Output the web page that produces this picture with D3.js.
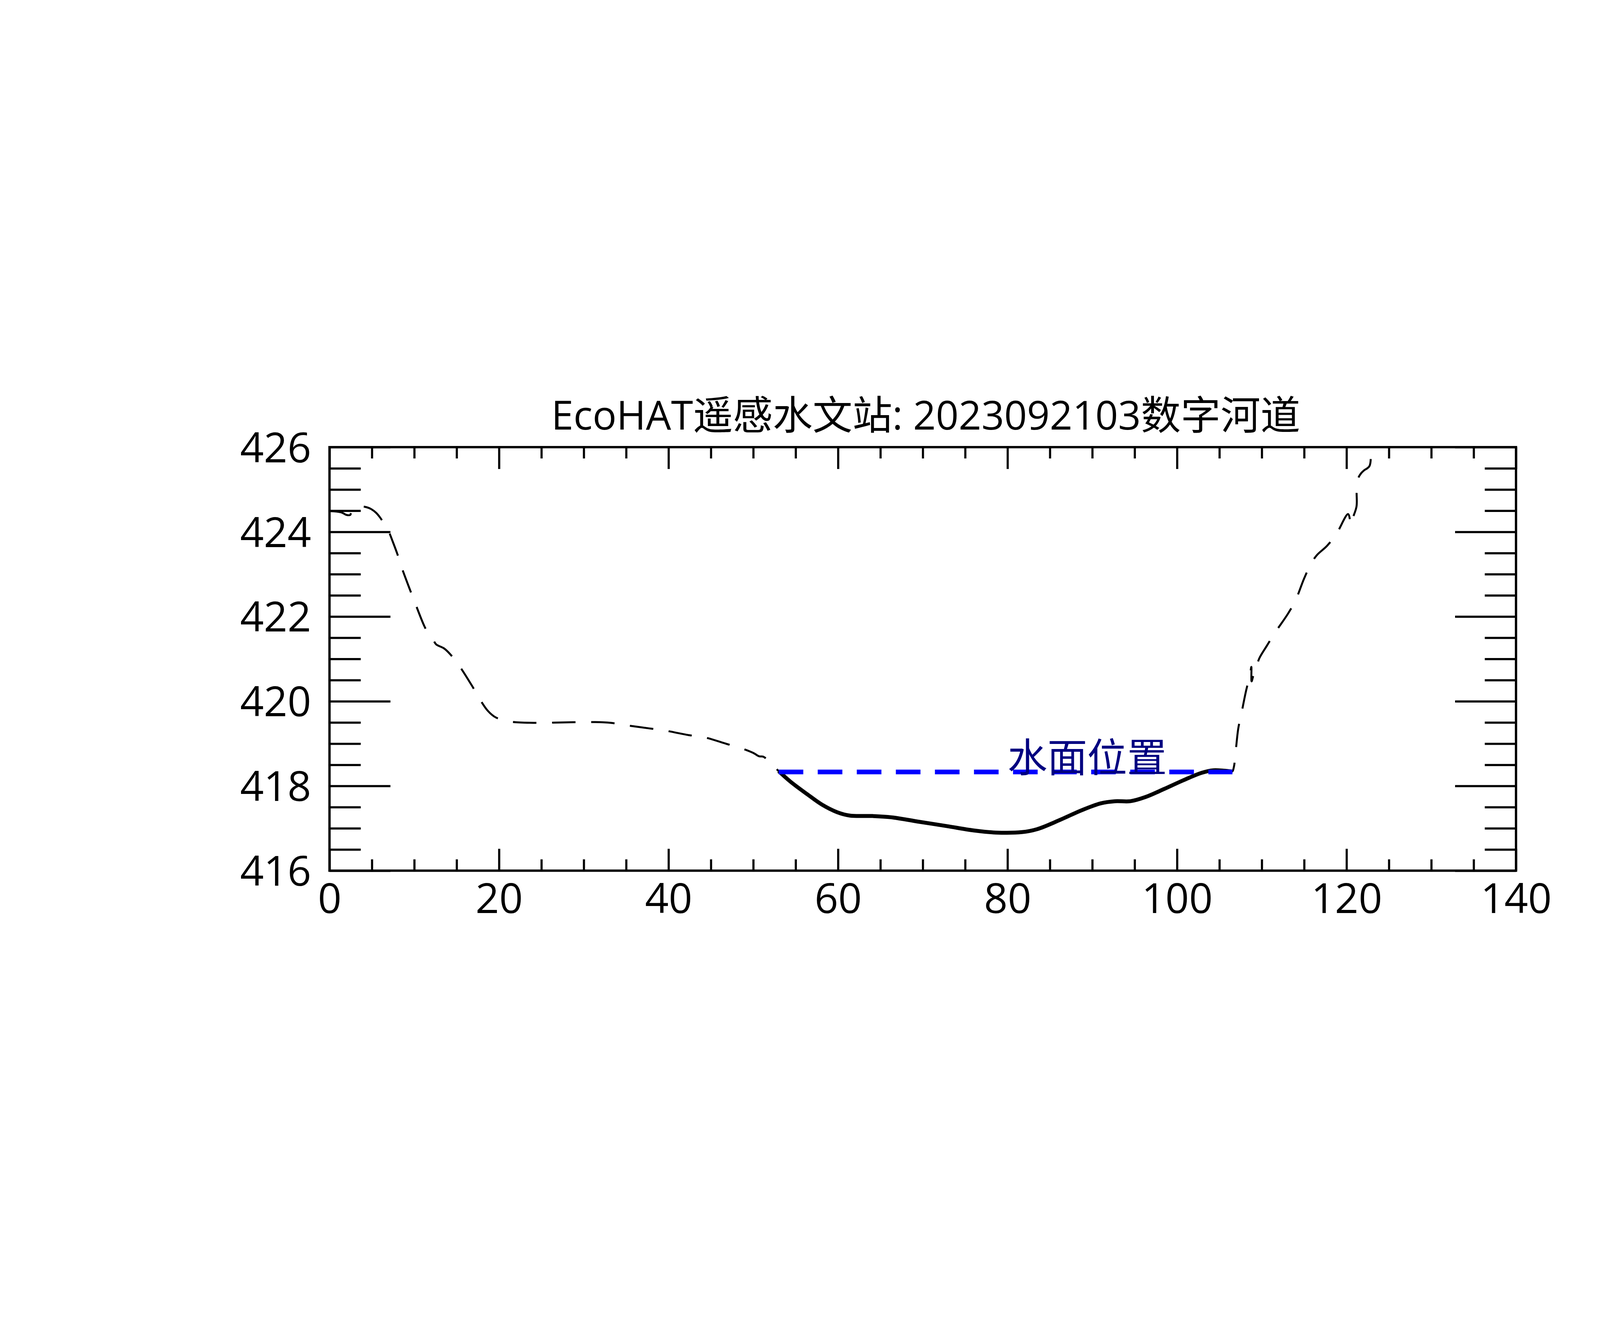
<!DOCTYPE html>
<html>
<head>
<meta charset="utf-8">
<script src="https://cdn.jsdelivr.net/npm/d3@7"></script>
<style>
  html, body { margin: 0; padding: 0; background: #fff; }
  svg { display: block; }
</style>
</head>
<body>
<div id="chart"></div>
<script>
const width = 4725;
const height = 3375;
const plot = { left: 843.5, right: 3881, top: 1145, bottom: 2229.5 };
const fontFamily = '"Open Sans", "Noto Sans CJK SC", sans-serif';

// chart text
const titleText = 'EcoHAT遥感水文站: 2023092103数字河道';
const waterLabel = '水面位置';

// axis ticks
const xMajorTicks = [0, 20, 40, 60, 80, 100, 120, 140];
const yMajorTicks = [416, 418, 420, 422, 424, 426];
const xMinorTicks = d3.range(0, 140, 5).filter(v => v % 20 !== 0);
const yMinorTicks = d3.range(416, 426, 0.5).filter(v => v % 2 !== 0);

// cross-section profile (distance, elevation)
const profileX = [
  0, 1.4, 2.0, 2.45, 2.55, 3.0, 3.7, 4.4, 4.9, 5.5, 6.0, 6.5, 7.0, 7.5, 8.0, 8.5,
  9.5, 10.1, 11.2, 11.8, 12.25, 12.6, 13.5, 14.2, 15.3, 16.8, 17.7, 18.7, 19.6,
  21.3, 24.1, 27.4, 30.7, 33.2, 35.1, 37.7, 39.8, 42.4, 44.2, 46.9, 48.6, 50.0,
  50.7, 51.2, 52.4, 53.0,
  54.4, 56.4, 58.1, 59.9, 61.4, 64.1, 66.3, 69.4, 72.9, 76.0, 78.6, 81.7, 83.5,
  86.1, 88.8, 91.0, 92.7, 94.5, 96.3, 98.5, 100.7, 102.9, 104.3, 105.5, 106.5,
  106.7, 106.92, 107.23, 107.6, 108.15, 108.6, 108.77, 108.8, 109.0, 109.38,
  109.7, 110.6, 111.6, 113.1, 114.0, 115.0, 115.8, 116.5, 117.7, 118.8, 120.2,
  120.52, 120.75, 121.18, 121.2, 121.37, 121.75, 122.06, 122.7, 122.9, 123.1
];
const profileY = [
  424.49, 424.46, 424.40, 424.40, 424.46, 424.56, 424.60, 424.58, 424.54, 424.45,
  424.33, 424.17, 424.00, 423.75, 423.48, 423.17,
  422.63, 422.32, 421.77, 421.55, 421.44, 421.34, 421.25, 421.12, 420.84, 420.37,
  420.06, 419.77, 419.62,
  419.52, 419.49, 419.50, 419.51, 419.49, 419.43, 419.36, 419.30, 419.20, 419.15,
  418.99, 418.89, 418.78,
  418.70, 418.69, 418.47, 418.35,
  418.10, 417.80, 417.56, 417.38, 417.30, 417.29, 417.26, 417.16, 417.05, 416.95,
  416.90, 416.91, 416.98,
  417.19, 417.43, 417.59, 417.64, 417.64, 417.74, 417.93, 418.13, 418.31, 418.37,
  418.36, 418.34,
  418.44, 418.81, 419.36, 419.71, 420.25, 420.61, 420.81, 420.47, 420.60, 420.81,
  421.01, 421.31, 421.63, 422.07, 422.39, 422.90, 423.24, 423.45, 423.67, 423.95,
  424.42,
  424.16, 424.33, 424.60, 424.97, 425.26, 425.39, 425.45, 425.55, 425.95, 426.30
];

// water surface
const waterLevel = 418.33;
const waterX = [53.0, 106.54];

const svg = d3.select('#chart')
  .append('svg')
  .attr('width', width)
  .attr('height', height)
  .style('font-family', fontFamily);

svg.append('rect')
  .attr('width', width)
  .attr('height', height)
  .attr('fill', '#fff');

const x = d3.scaleLinear().domain([0, 140]).range([plot.left, plot.right]);
const y = d3.scaleLinear().domain([416, 426]).range([plot.bottom, plot.top]);

svg.append('clipPath')
  .attr('id', 'plot-clip')
  .append('rect')
  .attr('x', plot.left)
  .attr('y', plot.top)
  .attr('width', plot.right - plot.left)
  .attr('height', plot.bottom - plot.top);

// axes, ticks point inward on all four sides
const tickStroke = 5.5;
const styleAxis = (g) => {
  g.select('.domain').remove();
  g.selectAll('.tick line').attr('stroke', '#000').attr('stroke-width', tickStroke);
  g.selectAll('.tick text')
    .attr('fill', '#000')
    .style('font-family', fontFamily)
    .style('font-size', '106px');
};

svg.append('g')
  .attr('transform', `translate(0,${plot.bottom})`)
  .call(d3.axisBottom(x).tickValues(xMajorTicks).tickSize(-56).tickPadding(33).tickFormat(d3.format('d')))
  .call(styleAxis)
  .selectAll('.tick text').attr('dy', '0.71em');

svg.append('g')
  .attr('transform', `translate(0,${plot.bottom})`)
  .call(d3.axisBottom(x).tickValues(xMinorTicks).tickSize(-29).tickFormat(''))
  .call(styleAxis);

svg.append('g')
  .attr('transform', `translate(0,${plot.top})`)
  .call(d3.axisTop(x).tickValues(xMajorTicks).tickSize(-56).tickFormat(''))
  .call(styleAxis);

svg.append('g')
  .attr('transform', `translate(0,${plot.top})`)
  .call(d3.axisTop(x).tickValues(xMinorTicks).tickSize(-29).tickFormat(''))
  .call(styleAxis);

svg.append('g')
  .attr('transform', `translate(${plot.left},0)`)
  .call(d3.axisLeft(y).tickValues(yMajorTicks).tickSize(-156).tickPadding(47).tickFormat(d3.format('d')))
  .call(styleAxis)
  .selectAll('.tick text').attr('dy', '0.36em');

svg.append('g')
  .attr('transform', `translate(${plot.left},0)`)
  .call(d3.axisLeft(y).tickValues(yMinorTicks).tickSize(-80).tickFormat(''))
  .call(styleAxis);

svg.append('g')
  .attr('transform', `translate(${plot.right},0)`)
  .call(d3.axisRight(y).tickValues(yMajorTicks).tickSize(-156).tickFormat(''))
  .call(styleAxis);

svg.append('g')
  .attr('transform', `translate(${plot.right},0)`)
  .call(d3.axisRight(y).tickValues(yMinorTicks).tickSize(-80).tickFormat(''))
  .call(styleAxis);

// profile lines
const profile = profileX.map((d, i) => ({ x: d, y: profileY[i] }));
const bed = profile.filter(d => d.x >= waterX[0] && d.x <= waterX[1]);

const line = d3.line()
  .x(d => x(d.x))
  .y(d => y(d.y))
  .curve(d3.curveCatmullRom.alpha(0.5));

const lines = svg.append('g').attr('clip-path', 'url(#plot-clip)');

lines.append('path')
  .datum(profile)
  .attr('d', line)
  .attr('fill', 'none')
  .attr('stroke', '#000')
  .attr('stroke-width', 5)
  .attr('stroke-dasharray', '60 40');

lines.append('path')
  .datum(bed)
  .attr('d', line)
  .attr('fill', 'none')
  .attr('stroke', '#000')
  .attr('stroke-width', 10)
  .attr('stroke-linejoin', 'round');

lines.append('line')
  .attr('x1', x(waterX[0]))
  .attr('x2', x(waterX[1]))
  .attr('y1', y(waterLevel))
  .attr('y2', y(waterLevel))
  .attr('stroke', '#0000ff')
  .attr('stroke-width', 12)
  .attr('stroke-dasharray', '63 37');

svg.append('text')
  .attr('x', x(80))
  .attr('y', y(waterLevel))
  .attr('fill', '#000080')
  .style('font-family', '"Noto Sans CJK SC", sans-serif')
  .style('font-size', '102px')
  .text(waterLabel);

// frame
svg.append('rect')
  .attr('x', plot.left)
  .attr('y', plot.top)
  .attr('width', plot.right - plot.left)
  .attr('height', plot.bottom - plot.top)
  .attr('fill', 'none')
  .attr('stroke', '#000')
  .attr('stroke-width', 6);

// title
svg.append('text')
  .attr('x', 2370)
  .attr('y', 1100)
  .attr('text-anchor', 'middle')
  .attr('fill', '#000')
  .style('font-size', '102px')
  .text(titleText);
</script>
</body>
</html>
